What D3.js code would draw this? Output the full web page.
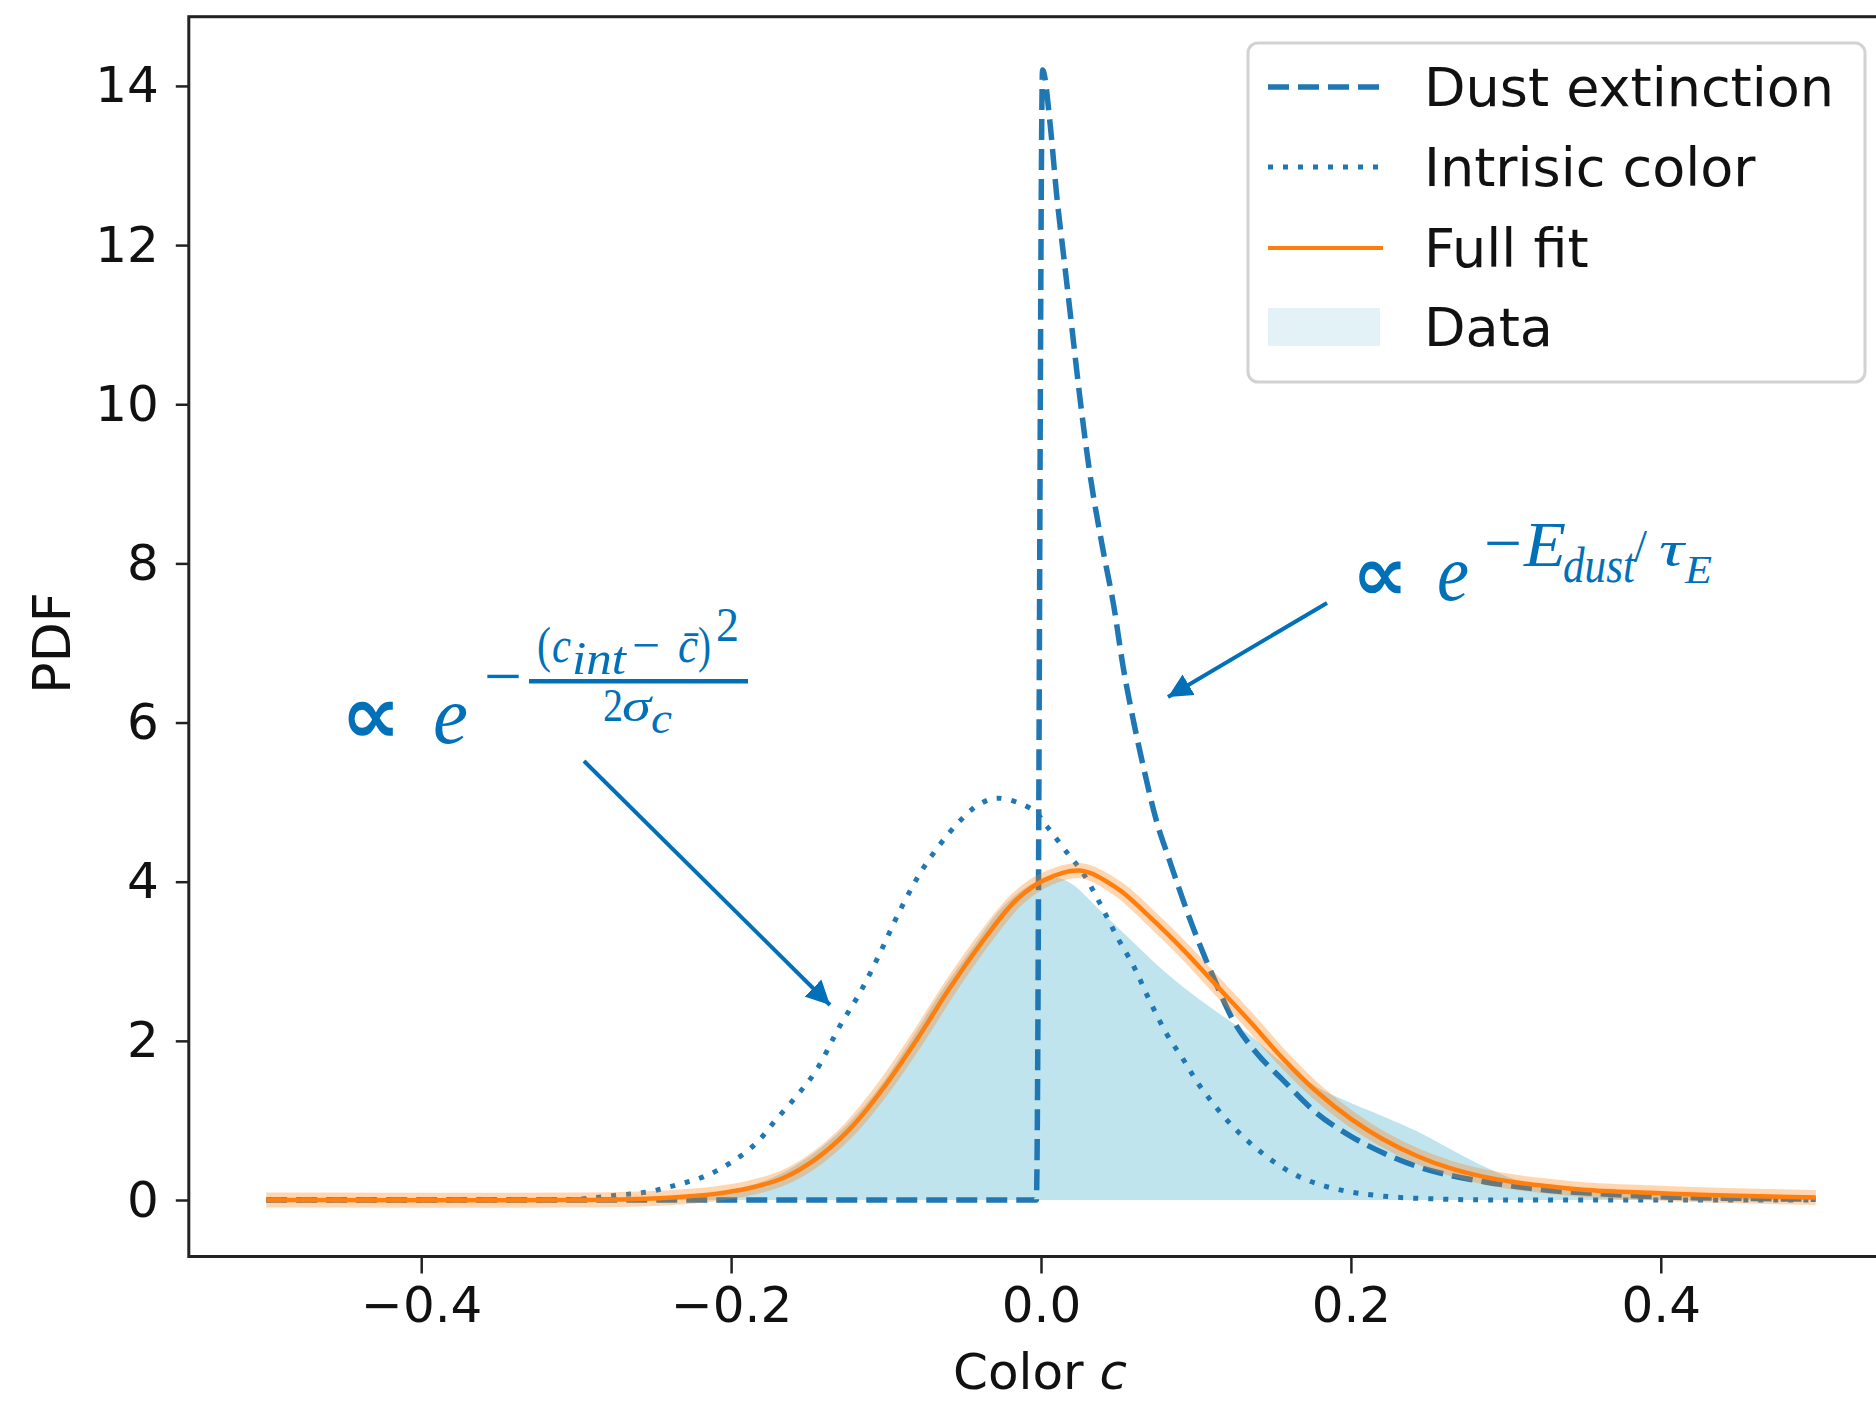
<!DOCTYPE html>
<html>
<head>
<meta charset="utf-8">
<script src="https://cdn.jsdelivr.net/npm/d3@7"></script>
<style>
  body { margin: 0; background: #fff; }
  svg { display: block; }
</style>
</head>
<body>
<div id="chart"></div>
<script>
// Values (colour c -> PDF)
const dustC = [-0.5, -0.003, 0.001, 0.006, 0.010, 0.015, 0.020, 0.025, 0.031, 0.040, 0.047, 0.053, 0.060, 0.066, 0.075, 0.082, 0.098, 0.111, 0.124, 0.139, 0.156, 0.178, 0.200, 0.221, 0.243, 0.264, 0.286, 0.307, 0.329, 0.36, 0.40, 0.45, 0.50];
const dustV = [0, 0, 14.2, 13.5, 12.65, 11.8, 10.95, 10.1, 9.2, 8.17, 7.46, 6.70, 5.99, 5.45, 4.73, 4.32, 3.43, 2.81, 2.26, 1.85, 1.51, 1.09, 0.80, 0.59, 0.42, 0.31, 0.23, 0.17, 0.12, 0.08, 0.04, 0.02, 0.01];

const intC = [-0.5, -0.35, -0.30, -0.274, -0.254, -0.235, -0.218, -0.201, -0.184, -0.171, -0.158, -0.145, -0.130, -0.117, -0.104, -0.091, -0.075, -0.054, -0.040, -0.028, -0.005, 0.004, 0.017, 0.027, 0.038, 0.049, 0.060, 0.070, 0.081, 0.092, 0.103, 0.124, 0.146, 0.167, 0.19, 0.22, 0.26, 0.30, 0.40, 0.50];
const intV = [0, 0, 0.01, 0.06, 0.10, 0.19, 0.29, 0.46, 0.71, 1.01, 1.30, 1.63, 2.18, 2.60, 3.10, 3.64, 4.20, 4.73, 4.97, 5.05, 4.90, 4.69, 4.36, 4.11, 3.73, 3.31, 2.93, 2.51, 2.09, 1.76, 1.42, 0.92, 0.54, 0.29, 0.14, 0.05, 0.01, 0, 0, 0];

const fitC = [-0.5, -0.3, -0.25, -0.231, -0.209, -0.188, -0.166, -0.145, -0.123, -0.102, -0.080, -0.059, -0.037, -0.016, 0.002, 0.025, 0.049, 0.070, 0.092, 0.113, 0.135, 0.156, 0.178, 0.200, 0.221, 0.243, 0.264, 0.286, 0.307, 0.329, 0.35, 0.393, 0.436, 0.5];
const fitV = [0, 0, 0.02, 0.04, 0.08, 0.15, 0.28, 0.52, 0.90, 1.40, 2.02, 2.66, 3.27, 3.77, 4.02, 4.14, 3.92, 3.56, 3.14, 2.70, 2.24, 1.78, 1.36, 1.02, 0.76, 0.55, 0.40, 0.29, 0.22, 0.17, 0.13, 0.09, 0.06, 0.03];

const dataC = [-0.5, -0.3, -0.27, -0.25, -0.23, -0.21, -0.19, -0.17, -0.15, -0.125, -0.105, -0.085, -0.065, -0.045, -0.025, -0.005, 0.010, 0.020, 0.038, 0.060, 0.081, 0.103, 0.124, 0.135, 0.156, 0.178, 0.200, 0.221, 0.243, 0.264, 0.286, 0.307, 0.324, 0.35, 0.40, 0.45, 0.5];
const dataV = [0, 0, 0.01, 0.02, 0.06, 0.10, 0.17, 0.31, 0.54, 0.95, 1.40, 1.98, 2.60, 3.15, 3.68, 3.98, 4.05, 3.97, 3.64, 3.23, 2.85, 2.51, 2.22, 2.07, 1.72, 1.42, 1.22, 1.05, 0.86, 0.64, 0.42, 0.25, 0.17, 0.12, 0.08, 0.05, 0.04];

const xTicks = [-0.4, -0.2, 0.0, 0.2, 0.4];
const yTicks = [0, 2, 4, 6, 8, 10, 12, 14];
const legendLabels = ["Dust extinction", "Intrisic color", "Full fit", "Data"];

const width = 1876, height = 1402;
const blue = "#1f77b4", orange = "#ff7f0e", fillBlue = "#c0e4ed", annot = "#0070b8";
const font = "DejaVu Sans, sans-serif";
const serif = "Liberation Serif, Times New Roman, DejaVu Serif, serif";

const svg = d3.select("#chart").append("svg")
    .attr("width", width)
    .attr("height", height);

const x = d3.scaleLinear().domain([-0.55, 0.55]).range([188.8, 1893.2]);
const y = d3.scaleLinear().domain([-0.71, 14.87]).range([1256.5, 16.7]);

svg.append("clipPath").attr("id", "plot")
  .append("rect")
    .attr("x", x.range()[0]).attr("y", y.range()[1])
    .attr("width", x.range()[1] - x.range()[0])
    .attr("height", y.range()[0] - y.range()[1]);

const plot = svg.append("g").attr("clip-path", "url(#plot)");

const smooth = d3.curveCatmullRom.alpha(0.5);

const line = d3.line()
    .x(d => x(d[0]))
    .y(d => y(d[1]))
    .curve(smooth);

// dust has a vertical step, keep it monotone so it doesn't overshoot
const stepLine = d3.line()
    .x(d => x(d[0]))
    .y(d => y(d[1]))
    .curve(d3.curveMonotoneX);

const area = d3.area()
    .x(d => x(d[0]))
    .y0(y(0))
    .y1(d => y(d[1]))
    .curve(smooth);

// data fill
plot.append("path")
    .datum(d3.zip(dataC, dataV))
    .attr("d", area)
    .attr("fill", fillBlue);

// dust extinction
plot.append("path")
    .datum(d3.zip(dustC, dustV))
    .attr("d", stepLine)
    .attr("fill", "none")
    .attr("stroke", blue)
    .attr("stroke-width", 5.5)
    .attr("stroke-dasharray", "21,9");

// intrinsic colour
plot.append("path")
    .datum(d3.zip(intC, intV))
    .attr("d", line)
    .attr("fill", "none")
    .attr("stroke", blue)
    .attr("stroke-width", 5)
    .attr("stroke-dasharray", "5,10");

// full fit: uncertainty band + line
plot.append("path")
    .datum(d3.zip(fitC, fitV))
    .attr("d", line)
    .attr("fill", "none")
    .attr("stroke", orange)
    .attr("stroke-opacity", 0.32)
    .attr("stroke-width", 15)
    .attr("stroke-linejoin", "round");

plot.append("path")
    .datum(d3.zip(fitC, fitV))
    .attr("d", line)
    .attr("fill", "none")
    .attr("stroke", orange)
    .attr("stroke-width", 4.5);

// axes
const gx = svg.append("g")
    .attr("transform", `translate(0,${y.range()[0]})`)
    .call(d3.axisBottom(x).tickValues(xTicks).tickFormat(d3.format(".1f")).tickSize(17).tickPadding(13));
gx.select(".domain").remove();
gx.selectAll("line").attr("stroke", "#222").attr("stroke-width", 2.5);
gx.selectAll("text").attr("font-size", 50).attr("font-family", font).attr("fill", "#111");

const gy = svg.append("g")
    .attr("transform", `translate(${x.range()[0]},0)`)
    .call(d3.axisLeft(y).tickValues(yTicks).tickFormat(d3.format("d")).tickSize(13).tickPadding(17));
gy.select(".domain").remove();
gy.selectAll("line").attr("stroke", "#222").attr("stroke-width", 2.5);
gy.selectAll("text").attr("font-size", 50).attr("font-family", font).attr("fill", "#111");

svg.append("rect")
    .attr("x", x.range()[0]).attr("y", y.range()[1])
    .attr("width", x.range()[1] - x.range()[0])
    .attr("height", y.range()[0] - y.range()[1])
    .attr("fill", "none")
    .attr("stroke", "#222")
    .attr("stroke-width", 3);

// axis labels
const xl = svg.append("text")
    .attr("x", 1040).attr("y", 1389)
    .attr("text-anchor", "middle")
    .attr("font-family", font).attr("font-size", 50).attr("fill", "#111");
xl.append("tspan").text("Color ");
xl.append("tspan").attr("font-style", "italic").text("c");

svg.append("text")
    .attr("transform", "translate(70,643) rotate(-90)")
    .attr("text-anchor", "middle")
    .attr("font-family", font).attr("font-size", 52).attr("fill", "#111")
    .text("PDF");

// legend
const lg = svg.append("g");
lg.append("rect")
    .attr("x", 1248).attr("y", 43)
    .attr("width", 617).attr("height", 339)
    .attr("rx", 10)
    .attr("fill", "#fff").attr("fill-opacity", 0.85)
    .attr("stroke", "#d2d2d2").attr("stroke-width", 3);

const rowY = [87, 167, 248, 327];
lg.append("line").attr("x1", 1268).attr("x2", 1380).attr("y1", rowY[0]).attr("y2", rowY[0])
    .attr("stroke", blue).attr("stroke-width", 5.5).attr("stroke-dasharray", "21,9");
lg.append("line").attr("x1", 1268).attr("x2", 1380).attr("y1", rowY[1]).attr("y2", rowY[1])
    .attr("stroke", blue).attr("stroke-width", 5).attr("stroke-dasharray", "5,10");
lg.append("line").attr("x1", 1268).attr("x2", 1383).attr("y1", rowY[2]).attr("y2", rowY[2])
    .attr("stroke", orange).attr("stroke-width", 4);
lg.append("rect").attr("x", 1268).attr("y", rowY[3] - 19).attr("width", 112).attr("height", 38)
    .attr("fill", "#e2f2f7");

lg.selectAll("text.lab")
  .data(legendLabels)
  .enter().append("text")
    .attr("class", "lab")
    .attr("x", 1424)
    .attr("y", (d, i) => rowY[i] + 19)
    .attr("font-family", font).attr("font-size", 54).attr("fill", "#111")
    .text(d => d);

// annotations: formulas
function formula(tokens) {
  const g = svg.append("g").attr("fill", annot).attr("font-family", serif);
  tokens.forEach(t => {
    g.append("text")
      .attr("x", t.x).attr("y", t.y)
      .attr("font-size", t.s)
      .attr("font-style", t.i ? "italic" : "normal")
      .attr("font-weight", t.b ? "bold" : "normal")
      .attr("font-family", t.f || null)
      .attr("textLength", t.w)
      .attr("lengthAdjust", "spacingAndGlyphs")
      .text(t.t);
  });
  return g;
}

const leftF = formula([
  { t: "\u221D", x: 341, y: 743, s: 82, w: 60, b: true, f: "DejaVu Sans" },
  { t: "e", x: 433, y: 743, s: 82, i: true, w: 35 },
  { t: "\u2212", x: 484, y: 699, s: 68, w: 38 },
  { t: "(", x: 537, y: 662, s: 50, w: 14 },
  { t: "c", x: 552, y: 662, s: 50, i: true, w: 19 },
  { t: "int", x: 572, y: 674, s: 46, i: true, w: 54 },
  { t: "\u2212", x: 632, y: 662, s: 50, w: 28 },
  { t: "c\u0304", x: 678, y: 662, s: 50, i: true, w: 20 },
  { t: ")", x: 698, y: 662, s: 50, w: 13 },
  { t: "2", x: 716, y: 641, s: 48, w: 23 },
  { t: "2", x: 603, y: 721, s: 46, w: 20 },
  { t: "\u03C3", x: 622, y: 721, s: 46, i: true, w: 29 },
  { t: "c", x: 651, y: 733, s: 44, i: true, w: 21 }
]);
leftF.append("rect").attr("x", 529).attr("y", 679).attr("width", 219).attr("height", 4.5);

formula([
  { t: "\u221D", x: 1352, y: 600, s: 76, w: 56, b: true, f: "DejaVu Sans" },
  { t: "e", x: 1437, y: 600, s: 80, i: true, w: 32 },
  { t: "\u2212", x: 1484, y: 565, s: 66, w: 38 },
  { t: "E", x: 1524, y: 566, s: 64, i: true, w: 42 },
  { t: "dust", x: 1563, y: 582, s: 50, i: true, w: 72 },
  { t: "/", x: 1634, y: 562, s: 46, w: 13 },
  { t: "\u03C4", x: 1659, y: 566, s: 50, i: true, w: 25 },
  { t: "E", x: 1685, y: 583, s: 40, i: true, w: 27 }
]);

// arrows
const defs = svg.append("defs");
defs.append("marker")
    .attr("id", "head")
    .attr("viewBox", "0 0 10 10")
    .attr("refX", 10).attr("refY", 5)
    .attr("markerWidth", 24).attr("markerHeight", 25)
    .attr("markerUnits", "userSpaceOnUse")
    .attr("orient", "auto")
  .append("path")
    .attr("d", "M0,0 L10,5 L0,10 Z")
    .attr("fill", annot);

const arrows = [
  { x1: 584, y1: 761, x2: 830, y2: 1005 },
  { x1: 1327, y1: 603, x2: 1168, y2: 697 }
];
svg.selectAll("line.arrow")
  .data(arrows)
  .enter().append("line")
    .attr("class", "arrow")
    .attr("x1", d => d.x1).attr("y1", d => d.y1)
    .attr("x2", d => d.x2).attr("y2", d => d.y2)
    .attr("stroke", annot)
    .attr("stroke-width", 4)
    .attr("marker-end", "url(#head)");
</script>
</body>
</html>
